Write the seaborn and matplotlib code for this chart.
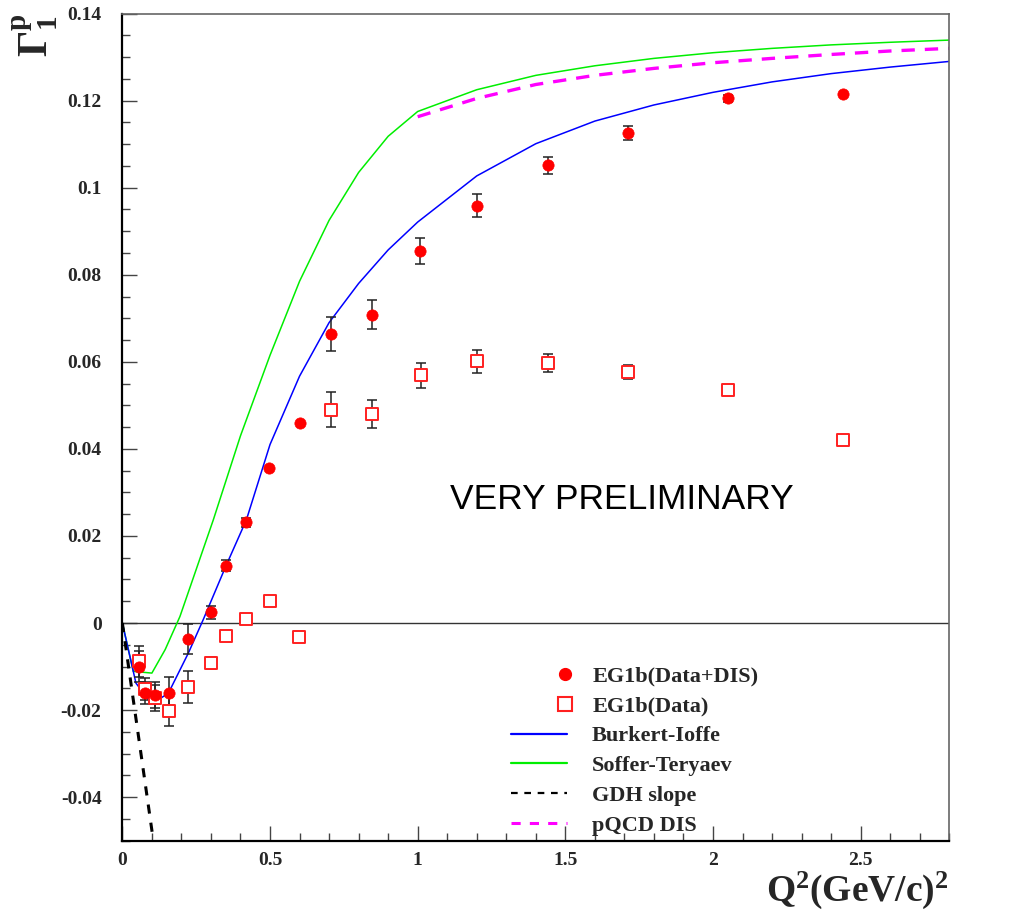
import numpy as np
import pandas as pd
import matplotlib
matplotlib.use("Agg")
import matplotlib.pyplot as plt
import seaborn as sns
from matplotlib.lines import Line2D
from matplotlib.legend_handler import HandlerLine2D
from matplotlib.ticker import FixedLocator, MultipleLocator, FixedFormatter

# ---------------- data ----------------
# EG1b (Data + DIS)  -- filled circles
q2_full = [0.0565, 0.077, 0.111, 0.157, 0.2235, 0.300, 0.350, 0.419, 0.497, 0.603,
           0.707, 0.845, 1.008, 1.200, 1.441, 1.712, 2.051, 2.441]
g1_full = [-0.0100, -0.0160, -0.0165, -0.0160, -0.0037, 0.0025, 0.0132, 0.0231, 0.0357, 0.0460,
           0.0664, 0.0708, 0.0854, 0.0959, 0.1051, 0.1126, 0.1205, 0.1216]
err_full = [0.0036, 0.0025, 0.0030, 0.0035, 0.0035, 0.0015, 0.0012, 0.0010, 0.0, 0.0,
            0.0040, 0.0033, 0.0030, 0.0027, 0.0020, 0.0016, 0.0008, 0.0]

# EG1b (Data) -- open squares
q2_data = [0.0565, 0.077, 0.111, 0.157, 0.2235, 0.300, 0.350, 0.419, 0.500, 0.599,
           0.7075, 0.844, 1.010, 1.200, 1.441, 1.712, 2.051, 2.441]
g1_data = [-0.0088, -0.0152, -0.0172, -0.0201, -0.0147, -0.0092, -0.0029, 0.0010, 0.0050, -0.0031,
           0.0490, 0.0480, 0.0569, 0.0601, 0.0597, 0.0577, 0.0535, 0.0421]
err_data = [0.0036, 0.0025, 0.0030, 0.0035, 0.0036, 0.0013, 0.0008, 0.0004, 0.0, 0.0,
            0.0040, 0.0033, 0.0029, 0.0027, 0.0020, 0.0016, 0.0006, 0.0]

# Burkert-Ioffe model
q2_bi = [0.0, 0.046, 0.100, 0.156, 0.2235, 0.274, 0.350, 0.420, 0.5, 0.6, 0.7, 0.8, 0.9, 1.0,
         1.2, 1.4, 1.6, 1.8, 2.0, 2.2, 2.4, 2.6, 2.8]
g1_bi = [0.0, -0.0138, -0.0186, -0.0161, -0.0069, 0.0008, 0.0130, 0.0237, 0.0410, 0.0567, 0.0690,
         0.0780, 0.0857, 0.0921, 0.1027, 0.1101, 0.1153, 0.1190, 0.1219, 0.1243, 0.1262, 0.1277, 0.1290]

# Soffer-Teryaev model
q2_st = [0.0, 0.037, 0.100, 0.145, 0.195, 0.250, 0.308, 0.4, 0.5, 0.6, 0.7, 0.8, 0.9, 1.0,
         1.2, 1.4, 1.6, 1.8, 2.0, 2.2, 2.4, 2.6, 2.8]
g1_st = [0.0, -0.0111, -0.0115, -0.0061, 0.0015, 0.0123, 0.0237, 0.0430, 0.0615, 0.0785, 0.0925,
         0.1035, 0.1118, 0.1175, 0.1225, 0.1258, 0.1280, 0.1297, 0.1310, 0.1320, 0.1328, 0.1334, 0.1339]

# GDH slope
q2_gdh = [0.0, 0.105]
g1_gdh = [0.0, -0.050]

# pQCD DIS
q2_pq = [1.0, 1.2, 1.4, 1.6, 1.8, 2.0, 2.2, 2.4, 2.6, 2.8]
g1_pq = [0.1163, 0.1205, 0.1237, 0.1258, 0.1274, 0.1287, 0.1297, 0.1306, 0.1314, 0.1320]

yticks = [-0.04, -0.02, 0.0, 0.02, 0.04, 0.06, 0.08, 0.10, 0.12, 0.14]
ytick_labels = ["-0.04", "-0.02", "0", "0.02", "0.04", "0.06", "0.08", "0.1", "0.12", "0.14"]
xticks = [0.0, 0.5, 1.0, 1.5, 2.0, 2.5]
xtick_labels = ["0", "0.5", "1", "1.5", "2", "2.5"]

labels = ["EG1b(Data+DIS)", "EG1b(Data)", "Burkert-Ioffe", "Soffer-Teryaev", "GDH slope", "pQCD DIS"]

# ---------------- style ----------------
sns.set_style("white")
plt.rcParams["font.family"] = ["Liberation Serif", "DejaVu Serif"]
plt.rcParams["font.weight"] = "bold"
plt.rcParams["mathtext.fontset"] = "custom"
plt.rcParams["mathtext.rm"] = "Liberation Serif"
plt.rcParams["mathtext.bf"] = "Liberation Serif:bold"
plt.rcParams["mathtext.it"] = "Liberation Serif:italic"

fig = plt.figure(figsize=(10.12, 9.15), dpi=100)
ax = fig.add_axes([0.1209, 0.0812, 0.8171, 0.9040])

full = pd.DataFrame({"Q2": q2_full, "G1": g1_full, "err": err_full})
data = pd.DataFrame({"Q2": q2_data, "G1": g1_data, "err": err_data})

# zero line
ax.axhline(0.0, color="#333333", lw=1.0, zorder=1)

# model curves
sns.lineplot(x=q2_st, y=g1_st, ax=ax, color="#00ee00", lw=1.1, sort=False, estimator=None, zorder=2)
sns.lineplot(x=q2_bi, y=g1_bi, ax=ax, color="#0000ff", lw=1.1, sort=False, estimator=None, zorder=2)
sns.lineplot(x=q2_gdh, y=g1_gdh, ax=ax, color="black", lw=2.2, sort=False, estimator=None,
             zorder=2, linestyle=(0, (3.0, 3.0)))
sns.lineplot(x=q2_pq, y=g1_pq, ax=ax, color="#ff00ff", lw=2.4, sort=False, estimator=None,
             zorder=2, linestyle=(0, (4.0, 3.0)))

# error bars
fe = full[full["err"] > 0]
de = data[data["err"] > 0]
ax.errorbar(de["Q2"], de["G1"], yerr=de["err"], fmt="none", ecolor="#222222",
            elinewidth=1.1, capsize=3.5, capthick=1.1, zorder=3)
ax.errorbar(fe["Q2"], fe["G1"], yerr=fe["err"], fmt="none", ecolor="#222222",
            elinewidth=1.1, capsize=3.5, capthick=1.1, zorder=3)

# data points
sns.scatterplot(data=data, x="Q2", y="G1", ax=ax, marker="s", s=78,
                facecolor="white", edgecolor="#ff2020", linewidth=1.4, zorder=4)
sns.scatterplot(data=full, x="Q2", y="G1", ax=ax, marker="o", s=66,
                color="#ff0000", edgecolor="#ff0000", linewidth=0.5, zorder=5)

# axes
ax.set_xlim(0, 2.8)
ax.set_ylim(-0.05, 0.14)
ax.xaxis.set_major_locator(FixedLocator(xticks))
ax.xaxis.set_major_formatter(FixedFormatter(xtick_labels))
ax.xaxis.set_minor_locator(MultipleLocator(0.1))
ax.yaxis.set_major_locator(FixedLocator(yticks))
ax.yaxis.set_major_formatter(FixedFormatter(ytick_labels))
ax.yaxis.set_minor_locator(MultipleLocator(0.005))
ax.tick_params(which="both", direction="in", color="#444444", width=1.0,
               top=False, right=False, bottom=True, left=True)
ax.tick_params(which="major", length=11)
ax.tick_params(which="minor", length=5.5)
ax.tick_params(axis="y", which="major", pad=15, labelsize=14)
ax.tick_params(axis="x", which="major", pad=8, labelsize=14)
for lab in ax.get_xticklabels() + ax.get_yticklabels():
    lab.set_fontweight("bold")

for side in ["left", "bottom"]:
    ax.spines[side].set_color("black")
    ax.spines[side].set_linewidth(1.6)
for side in ["top", "right"]:
    ax.spines[side].set_color("#666666")
    ax.spines[side].set_linewidth(1.2)

ax.set_xlabel(r"$\mathbf{Q^2(GeV/c)^2}$", loc="right", fontsize=27, labelpad=0.5)
ax.set_ylabel(r"$\mathbf{\Gamma_1^p}$", loc="top", fontsize=30)
ax.yaxis.set_label_coords(-0.075, 1.0)

ax.text(1.69, 0.0284, "VERY PRELIMINARY", ha="center", va="center",
        fontsize=25.5, fontweight="normal", family=["Liberation Sans", "DejaVu Sans"], color="black")


# legend: markers drawn at the right end of the handle area
class RightMarkerHandler(HandlerLine2D):
    def get_xdata(self, legend, xdescent, ydescent, width, height, fontsize):
        xm = -xdescent + width - 0.05 * fontsize
        # the (invisible) 3-point line's middle point carries the marker
        xdata = np.array([-xdescent, 2 * xm + xdescent])
        return xdata, np.array([xm])


h_circ = Line2D([], [], marker="o", color="#ff0000", ls="none", markersize=8.5)
h_sq = Line2D([], [], marker="s", color="#ff2020", markerfacecolor="white", ls="none",
              markersize=9.5, markeredgewidth=1.5)
handles = [
    h_circ,
    h_sq,
    Line2D([], [], color="#0000ff", lw=1.6),
    Line2D([], [], color="#00ee00", lw=1.6),
    Line2D([], [], color="black", lw=1.6, linestyle=(0, (3.0, 3.0))),
    Line2D([], [], color="#ff00ff", lw=2.2, linestyle=(0, (3.0, 3.0))),
]
leg = ax.legend(handles, labels, loc="upper left", bbox_to_anchor=(511 / 1012, 1 - 666 / 915),
                bbox_transform=fig.transFigure, frameon=False, numpoints=1,
                handlelength=2.5, handletextpad=1.15, labelspacing=0.42,
                borderpad=0, borderaxespad=0,
                handler_map={h_circ: RightMarkerHandler(numpoints=1),
                             h_sq: RightMarkerHandler(numpoints=1)},
                prop={"family": "Liberation Serif", "weight": "bold", "size": 16})

fig.savefig("out.png", dpi=100)
